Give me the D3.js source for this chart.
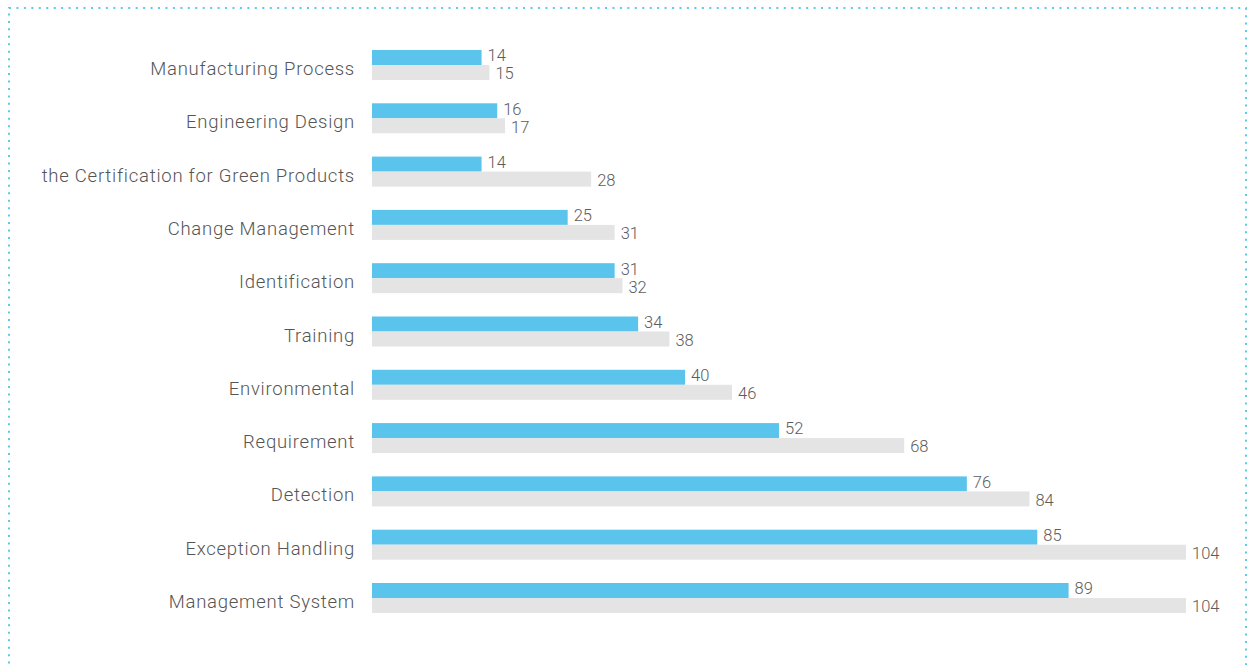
<!DOCTYPE html>
<html><head><meta charset="utf-8">
<script src="https://cdn.jsdelivr.net/npm/d3@7"></script>
<style>html,body{margin:0;padding:0;background:#fff;}svg{display:block;}</style>
</head><body>
<script>
const categories = ["Manufacturing Process","Engineering Design","the Certification for Green Products","Change Management","Identification","Training","Environmental","Requirement","Detection","Exception Handling","Management System"];
const seriesA = [14,16,14,25,31,34,40,52,76,85,89];
const seriesB = [15,17,28,31,32,38,46,68,84,104,104];

const W = 1248, H = 665;
const svg = d3.select("body").append("svg").attr("width", W).attr("height", H);

svg.append("rect").attr("x", 9).attr("y", 8).attr("width", 1237).attr("height", 700)
  .attr("fill", "none").attr("stroke", "#5ccbe6").attr("stroke-width", 2)
  .attr("stroke-dasharray", "2,5.45");

const x = d3.scaleLinear().domain([0, 104]).range([372, 1186]);
const y = d3.scaleBand().domain(categories).range([50, 613]).paddingInner(0.437).paddingOuter(0);
const bh = y.bandwidth() / 2;

const font = "Roboto, 'Liberation Sans', Arial, sans-serif";
const g = svg.append("g");

categories.forEach((c, i) => {
  const y0 = y(c);
  g.append("rect").attr("x", x(0)).attr("y", y0).attr("width", x(seriesA[i]) - x(0)).attr("height", bh).attr("fill", "#5bc4ec");
  g.append("rect").attr("x", x(0)).attr("y", y0 + bh).attr("width", x(seriesB[i]) - x(0)).attr("height", bh).attr("fill", "#e4e4e4");
  g.append("text").attr("x", x(seriesA[i]) + 6).attr("y", y0 + bh / 2 - 2).attr("dy", "0.355em")
    .attr("font-family", font).attr("font-weight", 300).attr("font-size", 16.5).attr("fill", "#5c5c5c").text(seriesA[i]);
  g.append("text").attr("x", x(seriesB[i]) + 6).attr("y", y0 + bh * 1.5 + 1).attr("dy", "0.355em")
    .attr("font-family", font).attr("font-weight", 300).attr("font-size", 16.5).attr("fill", "#5c5c5c").text(seriesB[i]);
  g.append("text").attr("x", 355).attr("y", y0 + bh + 3.5).attr("dy", "0.355em").attr("text-anchor", "end")
    .attr("font-family", font).attr("font-weight", 300).attr("font-size", 18.5).attr("letter-spacing", "0.75px")
    .attr("fill", "#555").text(c);
});
</script>
</body></html>
